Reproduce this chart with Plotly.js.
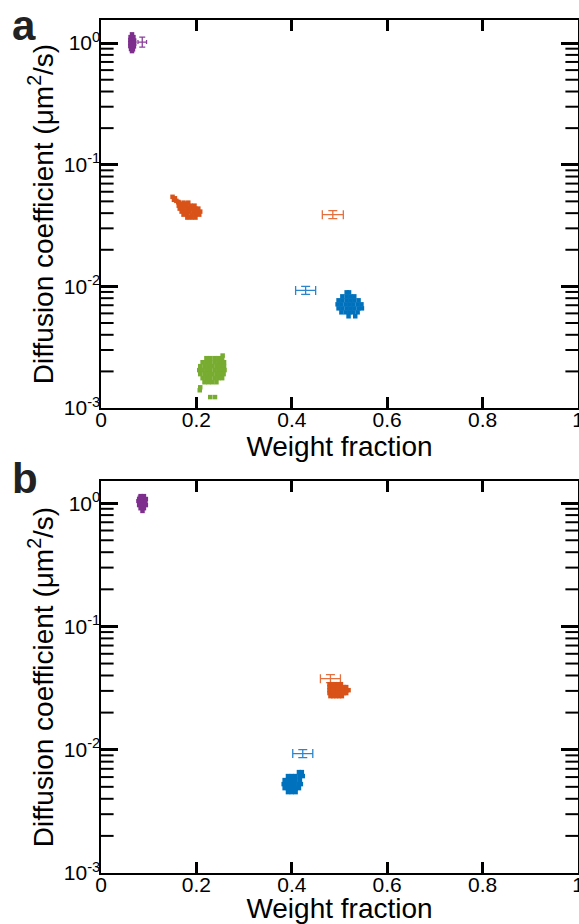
<!DOCTYPE html>
<html><head><meta charset="utf-8">
<script src="https://cdn.plot.ly/plotly-3.0.1.min.js"></script>
<style>html,body{margin:0;padding:0;background:#fff}#chart{width:579px;height:924px}</style>
</head><body><div id="chart"></div>
<script>
// ---------- axis ticks ----------
var xTickVals = [0, 0.2, 0.4, 0.6, 0.8, 1];
var xTickText = ['0', '0.2', '0.4', '0.6', '0.8', '1'];
var yTickVals = [0.001, 0.01, 0.1, 1];
var yTickText = ['10<sup>-3</sup>', '10<sup>-2</sup>', '10<sup>-1</sup>', '10<sup>0</sup>'];
var yMinorVals = [0.002,0.003,0.004,0.005,0.006,0.007,0.008,0.009,
                  0.02,0.03,0.04,0.05,0.06,0.07,0.08,0.09,
                  0.2,0.3,0.4,0.5,0.6,0.7,0.8,0.9];

// ---------- panel a : simulated clusters ----------
var aPurpleX = [0.065,0.062,0.068,0.0615,0.0655,0.0695,0.0615,0.0655,0.0695,0.0615,0.0655,0.069,0.063,0.067,0.065];
var aPurpleY = [1.18,1.12,1.12,1.06,1.06,1.05,1.00,1.00,0.99,0.945,0.945,0.94,0.895,0.89,0.86];

var aOrangeX = [0.150,0.155,0.158,0.153,0.162,
  0.163,0.173,0.183,
  0.163,0.171,0.179,0.188,0.196,
  0.165,0.173,0.181,0.190,0.198,0.204,
  0.169,0.177,0.185,0.194,0.202,0.208,
  0.173,0.181,0.190,0.198,0.206,
  0.181,0.190,0.198,
  0.167,0.178,0.186,0.194,0.200,0.176,0.185];
var aOrangeY = [0.0545,0.0530,0.0505,0.0515,0.0495,
  0.0488,0.0488,0.0488,
  0.0461,0.0461,0.0461,0.0461,0.0461,
  0.0436,0.0436,0.0436,0.0436,0.0436,0.0436,
  0.0412,0.0412,0.0412,0.0412,0.0412,0.0412,
  0.0389,0.0389,0.0389,0.0389,0.0389,
  0.0368,0.0368,0.0368,
  0.0475,0.0478,0.0445,0.0425,0.0398,0.0400,0.0372];

var aGreenX = [0.221,0.229,0.238,0.246,0.254,0.255,
  0.213,0.221,0.229,0.238,0.246,0.254,0.258,
  0.208,0.217,0.225,0.233,0.242,0.250,0.258,
  0.206,0.213,0.221,0.229,0.238,0.246,0.254,0.259,
  0.208,0.217,0.225,0.233,0.242,0.250,0.257,
  0.213,0.221,0.229,0.238,0.246,0.254,
  0.217,0.225,0.233,0.242,
  0.208,0.207,0.229,0.239];
var aGreenY = [0.00257,0.00257,0.00257,0.00257,0.00257,0.00270,
  0.00238,0.00238,0.00238,0.00238,0.00238,0.00238,0.00238,
  0.00221,0.00221,0.00221,0.00221,0.00221,0.00221,0.00221,
  0.00205,0.00205,0.00205,0.00205,0.00205,0.00205,0.00205,0.00205,
  0.00190,0.00190,0.00190,0.00190,0.00190,0.00190,0.00190,
  0.00176,0.00176,0.00176,0.00176,0.00176,0.00176,
  0.00163,0.00163,0.00163,0.00163,
  0.00148,0.00140,0.00123,0.00123];

var aBlueX = [0.515,0.520,
  0.506,0.515,0.523,0.531,
  0.498,0.506,0.515,0.523,0.531,0.540,
  0.496,0.504,0.513,0.521,0.529,0.538,0.546,
  0.498,0.506,0.515,0.523,0.531,0.540,0.547,
  0.504,0.513,0.521,0.529,0.538,
  0.519,0.533];
var aBlueY = [0.00893,0.00893,
  0.00828,0.00828,0.00828,0.00828,
  0.00768,0.00768,0.00768,0.00768,0.00768,0.00768,
  0.00712,0.00712,0.00712,0.00712,0.00712,0.00712,0.00712,
  0.00660,0.00660,0.00660,0.00660,0.00660,0.00660,0.00660,
  0.00612,0.00612,0.00612,0.00612,0.00612,
  0.00568,0.00568];

// panel a : experimental means (purple, orange, blue)
var aMeanX = [0.0865, 0.486, 0.429];
var aMeanY = [1.02, 0.0389, 0.00927];
var aSdX = [0.009, 0.022, 0.021];
var aSdYUp = [0.101, 0.00305, 0.000727];
var aSdYDown = [0.092, 0.00283, 0.000674];

// ---------- panel b ----------
var bPurpleX = [0.083,0.090,0.080,0.087,0.094,0.080,0.087,0.093,0.080,0.087,0.094,0.083,0.090,0.087];
var bPurpleY = [1.14,1.14,1.08,1.08,1.08,1.02,1.02,1.02,0.965,0.965,0.965,0.91,0.91,0.865];

var bOrangeX = [0.479,0.485,0.491,0.497,0.503,
  0.479,0.485,0.491,0.497,0.503,0.509,0.514,
  0.479,0.485,0.491,0.497,0.503,0.509,0.515,0.519,
  0.479,0.485,0.491,0.497,0.503,0.509,0.514,
  0.481,0.487,0.493,0.499,0.505];
var bOrangeY = [0.0340,0.0340,0.0340,0.0340,0.0340,
  0.0322,0.0322,0.0322,0.0322,0.0322,0.0322,0.0322,
  0.0304,0.0304,0.0304,0.0304,0.0304,0.0304,0.0304,0.0304,
  0.0288,0.0288,0.0288,0.0288,0.0288,0.0288,0.0288,
  0.0272,0.0272,0.0272,0.0272,0.0272];

var bBlueX = [0.415,0.421,
  0.392,0.400,0.408,0.417,0.423,
  0.385,0.392,0.400,0.408,0.417,
  0.383,0.390,0.398,0.406,0.414,0.419,
  0.385,0.392,0.400,0.408,0.415,
  0.392,0.400,0.408];
var bBlueY = [0.00658,0.00658,
  0.00611,0.00611,0.00611,0.00611,0.00611,
  0.00567,0.00567,0.00567,0.00567,0.00567,
  0.00526,0.00526,0.00526,0.00526,0.00526,0.00526,
  0.00488,0.00488,0.00488,0.00488,0.00488,
  0.00453,0.00453,0.00453];

var bMeanX = [0.083, 0.481, 0.423];
var bMeanY = [1.04, 0.0377, 0.0093];
var bSdX = [0.008, 0.021, 0.021];
var bSdYUp = [0.102, 0.00292, 0.00072];
var bSdYDown = [0.093, 0.00271, 0.00067];

// ---------- styles ----------
var cPurple = '#7E2F8E', cOrange = '#D95319', cGreen = '#77AC30', cBlue = '#0072BD';
var errColors = ['#8A3F9A', '#E4703F', '#2A86CC'];
var errCapX = [2, 4.5, 4.5];
var errCapY = [3, 4.5, 4.5];
var FONT = 'Liberation Sans, Arial, Helvetica, sans-serif';

function cloud(x, y, color, xa, ya) {
  return {x: x, y: y, xaxis: xa, yaxis: ya, type: 'scatter', mode: 'markers',
    marker: {symbol: 'square', size: 4.5, color: color, line: {width: 0}},
    hoverinfo: 'x+y', showlegend: false, cliponaxis: false};
}
function errTraces(mx, my, sx, up, dn, xa, ya) {
  var out = [];
  for (var i = 0; i < mx.length; i++) {
    out.push({x: [mx[i]], y: [my[i]], xaxis: xa, yaxis: ya, type: 'scatter', mode: 'markers',
      marker: {size: 1, opacity: 0}, showlegend: false,
      error_x: {type: 'data', array: [sx[i]], color: errColors[i], thickness: 1.3, width: errCapX[i]},
      error_y: {type: 'data', symmetric: false, array: [up[i]], arrayminus: [dn[i]],
                color: errColors[i], thickness: 1.3, width: errCapY[i]}});
  }
  return out;
}
// minor (2..9) log ticks on both vertical frame edges, drawn as clipped line-ew markers
function minorTickTrace(xa, ya) {
  var xs = [], ys = [];
  var edges = xTickVals.slice(0, 1).concat(xTickVals.slice(-1));   // left and right frame edges
  edges.forEach(function (e) {
    yMinorVals.forEach(function (v) { xs.push(e); ys.push(v); });
  });
  return {x: xs, y: ys, xaxis: xa, yaxis: ya, type: 'scatter', mode: 'markers',
    marker: {symbol: 'line-ew', size: 18, color: 'black', line: {width: 2, color: 'black'}},
    cliponaxis: true, showlegend: false, hoverinfo: 'skip'};
}

var data = [].concat(
  [minorTickTrace('x', 'y')],
  errTraces(aMeanX, aMeanY, aSdX, aSdYUp, aSdYDown, 'x', 'y'),
  [cloud(aPurpleX, aPurpleY, cPurple, 'x', 'y'),
   cloud(aOrangeX, aOrangeY, cOrange, 'x', 'y'),
   cloud(aGreenX, aGreenY, cGreen, 'x', 'y'),
   cloud(aBlueX, aBlueY, cBlue, 'x', 'y')],
  [minorTickTrace('x2', 'y2')],
  errTraces(bMeanX, bMeanY, bSdX, bSdYUp, bSdYDown, 'x2', 'y2'),
  [cloud(bPurpleX, bPurpleY, cPurple, 'x2', 'y2'),
   cloud(bOrangeX, bOrangeY, cOrange, 'x2', 'y2'),
   cloud(bBlueX, bBlueY, cBlue, 'x2', 'y2')]
);

function xAxis(anchor) {
  return {anchor: anchor, domain: [0, 1], range: [0, 1], tickmode: 'array',
    tickvals: xTickVals, ticktext: xTickText, ticks: 'inside', ticklen: 11, tickwidth: 3,
    tickcolor: 'black', showline: true, linecolor: 'black', linewidth: 1.6, mirror: 'ticks',
    showgrid: false, zeroline: false, tickfont: {family: FONT, size: 21, color: '#000'},
    ticklabeloverflow: 'allow', ticklabelstandoff: -8,
    title: {text: 'Weight fraction', font: {family: FONT, size: 28, color: '#000'}, standoff: 0},
    automargin: false};
}
function yAxis(anchor, domain, top) {
  return {anchor: anchor, domain: domain, type: 'log', range: [-3, top], tickmode: 'array',
    tickvals: yTickVals, ticktext: yTickText, ticks: 'inside', ticklen: 17, tickwidth: 3,
    tickcolor: 'black', showline: true, linecolor: 'black', linewidth: 1.6, mirror: 'ticks',
    showgrid: false, zeroline: false, tickfont: {family: FONT, size: 21, color: '#000'},
    ticklabelstandoff: -5,
    title: {text: 'Diffusion coefficient (μm<sup>2</sup>/s)', font: {family: FONT, size: 28, color: '#000'}, standoff: 2},
    automargin: false};
}

var layout = {
  width: 579, height: 924,
  margin: {l: 101, r: 1, t: 20, b: 51},
  paper_bgcolor: '#fff', plot_bgcolor: '#fff',
  font: {family: FONT, color: '#000'},
  showlegend: false,
  xaxis: xAxis('y'),
  yaxis: yAxis('x', [0.5451, 1], 0.19),
  xaxis2: xAxis('y2'),
  yaxis2: yAxis('x2', [0, 0.4596], 0.18),
  annotations: [
    {text: '<b>a</b>', xref: 'paper', yref: 'paper', x: -0.19, y: 0.993, xanchor: 'left', yanchor: 'middle',
     showarrow: false, font: {family: FONT, size: 42, color: '#222'}},
    {text: '<b>b</b>', xref: 'paper', yref: 'paper', x: -0.19, y: 0.463, xanchor: 'left', yanchor: 'middle',
     showarrow: false, font: {family: FONT, size: 42, color: '#222'}}
  ]
};

Plotly.newPlot('chart', data, layout, {displayModeBar: false, staticPlot: true});
</script></body></html>
